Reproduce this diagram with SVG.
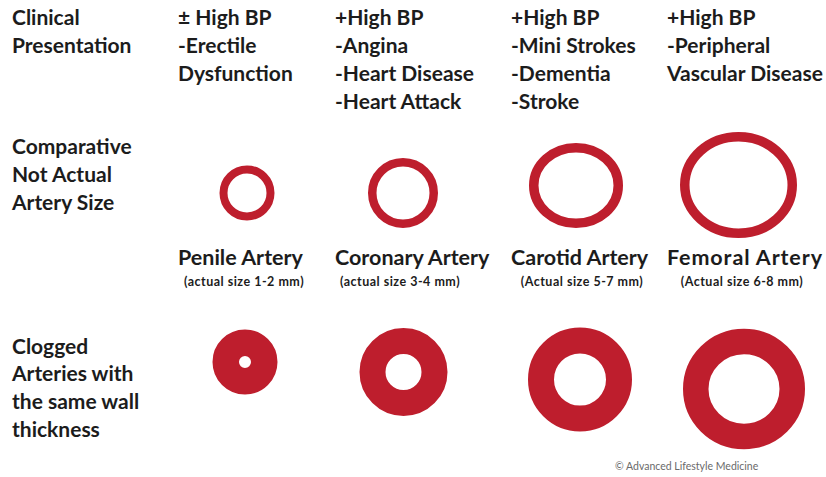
<svg xmlns="http://www.w3.org/2000/svg" width="826" height="477" viewBox="0 0 826 477">
<style>
text{font-family:Lato,"Liberation Sans",sans-serif;font-weight:bold;fill:#1c1c1c}
.t{font-size:21px}
.n{font-size:21.5px}
.s{font-size:12.5px;letter-spacing:0.5px}
.c{font-size:10.5px;font-weight:normal;fill:#6a6a6a}
.ring{fill:none;stroke:#be1e2d}
</style>
<rect width="826" height="477" fill="#fff"/>
<g id="row-labels">
<text class="t" x="12" y="25">Clinical</text>
<text class="t" x="12" y="53">Presentation</text>
<text class="t" x="12" y="154">Comparative</text>
<text class="t" x="12" y="182">Not Actual</text>
<text class="t" x="12" y="210">Artery Size</text>
<text class="t" x="12" y="354">Clogged</text>
<text class="t" x="12" y="381">Arteries with</text>
<text class="t" x="12" y="409">the same wall</text>
<text class="t" x="12" y="437">thickness</text>
</g>
<g id="penile">
<text class="t" x="178" y="25">± High BP</text>
<text class="t" x="178" y="53">-Erectile</text>
<text class="t" x="178" y="81">Dysfunction</text>
<circle class="ring" cx="247" cy="193" r="23.5" stroke-width="8"/>
<text class="n" x="178" y="265">Penile Artery</text>
<text class="s" x="244" y="286" text-anchor="middle">(actual size 1-2 mm)</text>
<circle class="ring" cx="245" cy="362" r="19.25" stroke-width="26.5"/>
</g>
<g id="coronary">
<text class="t" x="335" y="25">+High BP</text>
<text class="t" x="335" y="53">-Angina</text>
<text class="t" x="335" y="81">-Heart Disease</text>
<text class="t" x="335" y="109">-Heart Attack</text>
<circle class="ring" cx="403" cy="193" r="30.75" stroke-width="8.5"/>
<text class="n" x="335" y="265">Coronary Artery</text>
<text class="s" x="400" y="286" text-anchor="middle">(actual size 3-4 mm)</text>
<circle class="ring" cx="403.5" cy="372" r="31" stroke-width="26"/>
</g>
<g id="carotid">
<text class="t" x="511" y="25">+High BP</text>
<text class="t" x="511" y="53">-Mini Strokes</text>
<text class="t" x="511" y="81">-Dementia</text>
<text class="t" x="511" y="109">-Stroke</text>
<ellipse class="ring" cx="576" cy="185.5" rx="42.25" ry="37.75" stroke-width="9.5"/>
<text class="n" x="511" y="265">Carotid Artery</text>
<text class="s" x="582" y="286" text-anchor="middle">(Actual size 5-7 mm)</text>
<circle class="ring" cx="580" cy="379.5" r="39" stroke-width="26"/>
</g>
<g id="femoral">
<text class="t" x="667" y="25">+High BP</text>
<text class="t" x="667" y="53">-Peripheral</text>
<text class="t" x="667" y="81">Vascular Disease</text>
<ellipse class="ring" cx="738.5" cy="185" rx="53.75" ry="48.25" stroke-width="9.5"/>
<text class="n" x="667" y="265" textLength="155" lengthAdjust="spacing">Femoral Artery</text>
<text class="s" x="742" y="286" text-anchor="middle">(Actual size 6-8 mm)</text>
<ellipse class="ring" cx="744" cy="389" rx="48.25" ry="47.5" stroke-width="25.5"/>
</g>
<g id="connectors"/>
<text class="c" x="615" y="470">© Advanced Lifestyle Medicine</text>
</svg>
